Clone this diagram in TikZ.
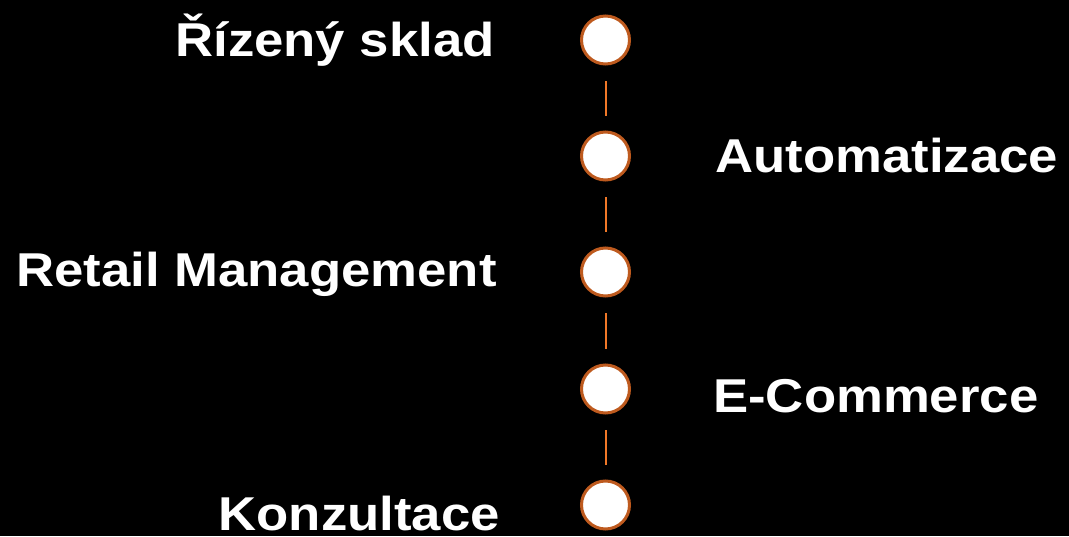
\documentclass[tikz,border=0pt]{standalone}
\usepackage{fontspec}
\setmainfont{Liberation Sans}
\usetikzlibrary{positioning}
\definecolor{rimorange}{RGB}{190,90,30}
\definecolor{linkorange}{RGB}{240,120,40}
\tikzstyle{Step}=[shape=circle,draw=rimorange,line width=3pt,fill=white,minimum size=48pt,inner sep=0pt]
\tikzstyle{Label}=[text=white,font=\fontsize{47.5}{57}\selectfont\bfseries,inner sep=0pt,xscale=1.11,transform shape]
\tikzstyle{link}=[linkorange,line width=2pt,shorten <=16pt,shorten >=14pt]

\begin{document}
\begin{tikzpicture}[x=1pt,y=1pt]

\fill[black] (0,0) rectangle (1069,536);
\useasboundingbox (0,0) rectangle (1069,536);

\node[Step] (S1) at (605.5,496){};
\node[Step] (S2) at (605.5,380){};
\node[Step] (S3) at (605.5,264){};
\node[Step] (S4) at (605.5,147){};
\node[Step] (S5) at (605.5,31){};

\node[Label,anchor=base east] (L1) at (495,479){Řízený sklad};
\node[Label,anchor=base west] (L2) at (715,363){Automatizace};
\node[Label,anchor=base east] (L3) at (497,249){Retail Management};
\node[Label,anchor=base west] (L4) at (713,123){E-Commerce};
\node[Label,anchor=base east] (L5) at (500,6){Konzultace};

\path
(S1) edge [link] (S2)
(S2) edge [link] (S3)
(S3) edge [link] (S4)
(S4) edge [link] (S5);

\end{tikzpicture}
\end{document}
